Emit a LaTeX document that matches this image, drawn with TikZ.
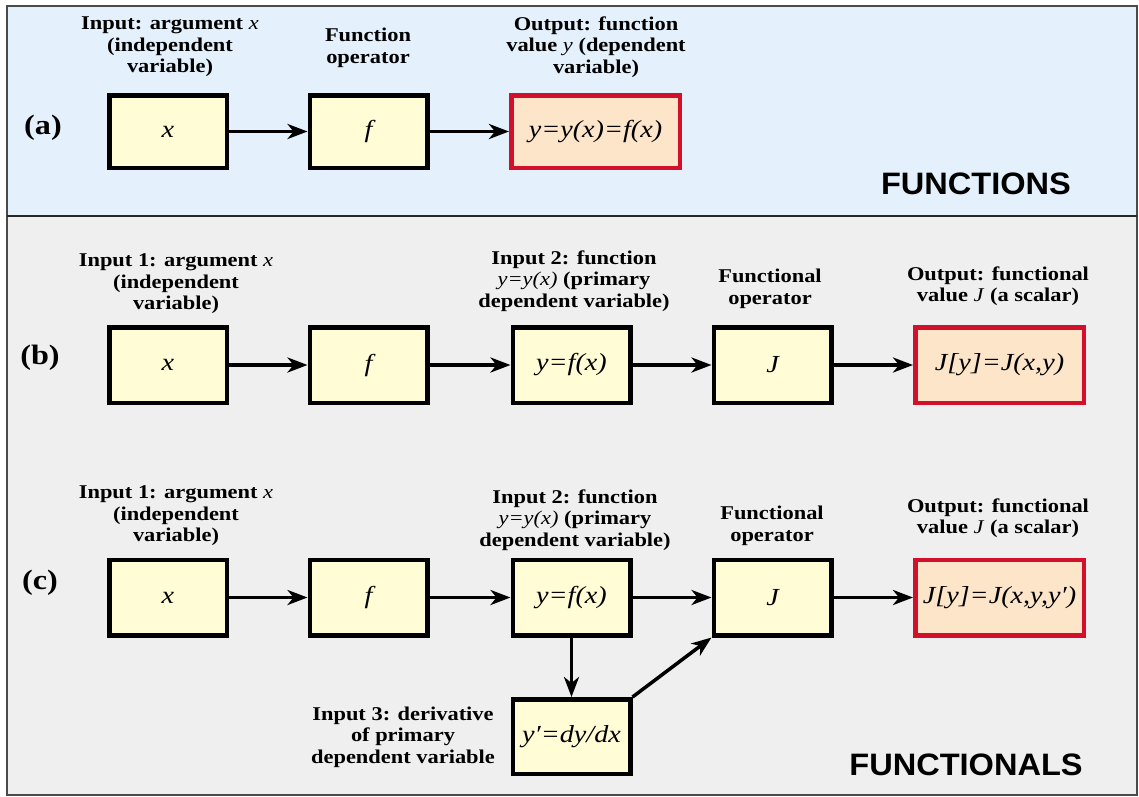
\documentclass[tikz,border=0pt]{standalone}
\usepackage{fontspec}
\setmainfont{Liberation Serif}[FakeStretch=1.15]
\newfontfamily\headfont{Liberation Sans}[FakeStretch=1.05]
\usetikzlibrary{arrows.meta}
\definecolor{bgblue}{HTML}{E4F0FB}
\definecolor{bggrey}{HTML}{EFEFEF}
\definecolor{framec}{HTML}{4A4A4A}
\definecolor{boxy}{HTML}{FFFCD6}
\definecolor{outfill}{HTML}{FCE5C9}
\definecolor{outred}{HTML}{D2102C}
\begin{document}
\begin{tikzpicture}[x=1pt,y=-1pt,
  box/.style={draw=black, line width=4.5pt, fill=boxy, minimum width=117.5pt, minimum height=75.5pt, inner sep=0pt,
    font=\fontsize{24.5}{28}\selectfont\itshape},
  outbox/.style={box, draw=outred, fill=outfill, minimum width=168.5pt},
  lbl/.style={align=center, inner sep=0pt, font=\fontsize{19.5}{21.5}\selectfont\bfseries},
  tag/.style={inner sep=0pt, font=\fontsize{28}{32}\selectfont\bfseries},
  head/.style={inner sep=0pt, font=\fontsize{31}{36}\selectfont\headfont\bfseries},
  arr/.style={line width=3.5pt, -{Stealth[length=20pt,width=15pt,inset=6pt]}}
]
\useasboundingbox (0,0) rectangle (1139,796);
\fill[bgblue] (7,6) rectangle (1137,216);
\fill[bggrey] (7,216) rectangle (1137,795);
\draw[framec, line width=2pt] (7,6) rectangle (1137,795);
\draw[black!85, line width=1.5pt] (7,216) -- (1137,216);

% ---------- (a) ----------
\node[tag] (ta) at (43,128) {(a)};
\node[box, minimum height=72.5pt] (xa) at (168,131.5) {x};
\node[box, minimum height=72.5pt] (fa) at (368.5,131.5) {f};
\node[outbox, minimum height=72.5pt] (ya) at (595.5,131.5) {y=y(x)=f(x)};
\draw[arr] (xa) -- (fa);
\draw[arr] (fa) -- (ya);
\node[lbl] (la1) at (170,47) {Input: argument \textmd{\textit{x}}\\(independent\\variable)};
\node[lbl] (la2) at (368,48) {Function\\operator};
\node[lbl] (la3) at (596,47) {Output: function\\value \textmd{\textit{y}} (dependent\\variable)};
\node[head] (hfun) at (976,184) {FUNCTIONS};

% ---------- (b) ----------
\node[tag] (tb) at (40,358) {(b)};
\node[box] (xb) at (168,365) {x};
\node[box] (fb) at (368.5,365) {f};
\node[box] (yb) at (571.5,365) {y=f(x)};
\node[box] (jb) at (772.5,365) {J};
\node[outbox] (ob) at (999.5,365) {J[y]=J(x,y)};
\draw[arr] (xb) -- (fb);
\draw[arr] (fb) -- (yb);
\draw[arr] (yb) -- (jb);
\draw[arr] (jb) -- (ob);
\node[lbl] (lb1) at (176,284) {Input 1: argument \textmd{\textit{x}}\\(independent\\variable)};
\node[lbl] (lb2) at (574,281) {Input 2: function\\\textmd{\textit{y=y(x)}} (primary\\dependent variable)};
\node[lbl] (lb3) at (770,289) {Functional\\operator};
\node[lbl] (lb4) at (998,286) {Output: functional\\value \textmd{\textit{J}} (a scalar)};

% ---------- (c) ----------
\node[tag] (tc) at (40,583) {(c)};
\node[box] (xc) at (168,597.5) {x};
\node[box] (fc) at (368.5,597.5) {f};
\node[box] (yc) at (571.5,597.5) {y=f(x)};
\node[box] (jc) at (772.5,597.5) {J};
\node[outbox] (oc) at (999.5,597.5) {J[y]=J(x,y,y′)};
\node[box, minimum height=74.5pt] (dc) at (571.5,736.5) {y′=dy/dx};
\draw[arr] (xc) -- (fc);
\draw[arr] (fc) -- (yc);
\draw[arr] (yc) -- (jc);
\draw[arr] (jc) -- (oc);
\draw[arr] (yc) -- (dc);
\draw[arr] (dc.north east) -- (jc.south west);
\node[lbl] (lc1) at (176,516) {Input 1: argument \textmd{\textit{x}}\\(independent\\variable)};
\node[lbl] (lc2) at (575,520) {Input 2: function\\\textmd{\textit{y=y(x)}} (primary\\dependent variable)};
\node[lbl] (lc3) at (772,526) {Functional\\operator};
\node[lbl] (lc4) at (998,518) {Output: functional\\value \textmd{\textit{J}} (a scalar)};
\node[lbl] (lc5) at (403,737) {Input 3: derivative\\of primary\\dependent variable};
\node[head] (hfnl) at (966,765) {FUNCTIONALS};
\end{tikzpicture}
\end{document}
